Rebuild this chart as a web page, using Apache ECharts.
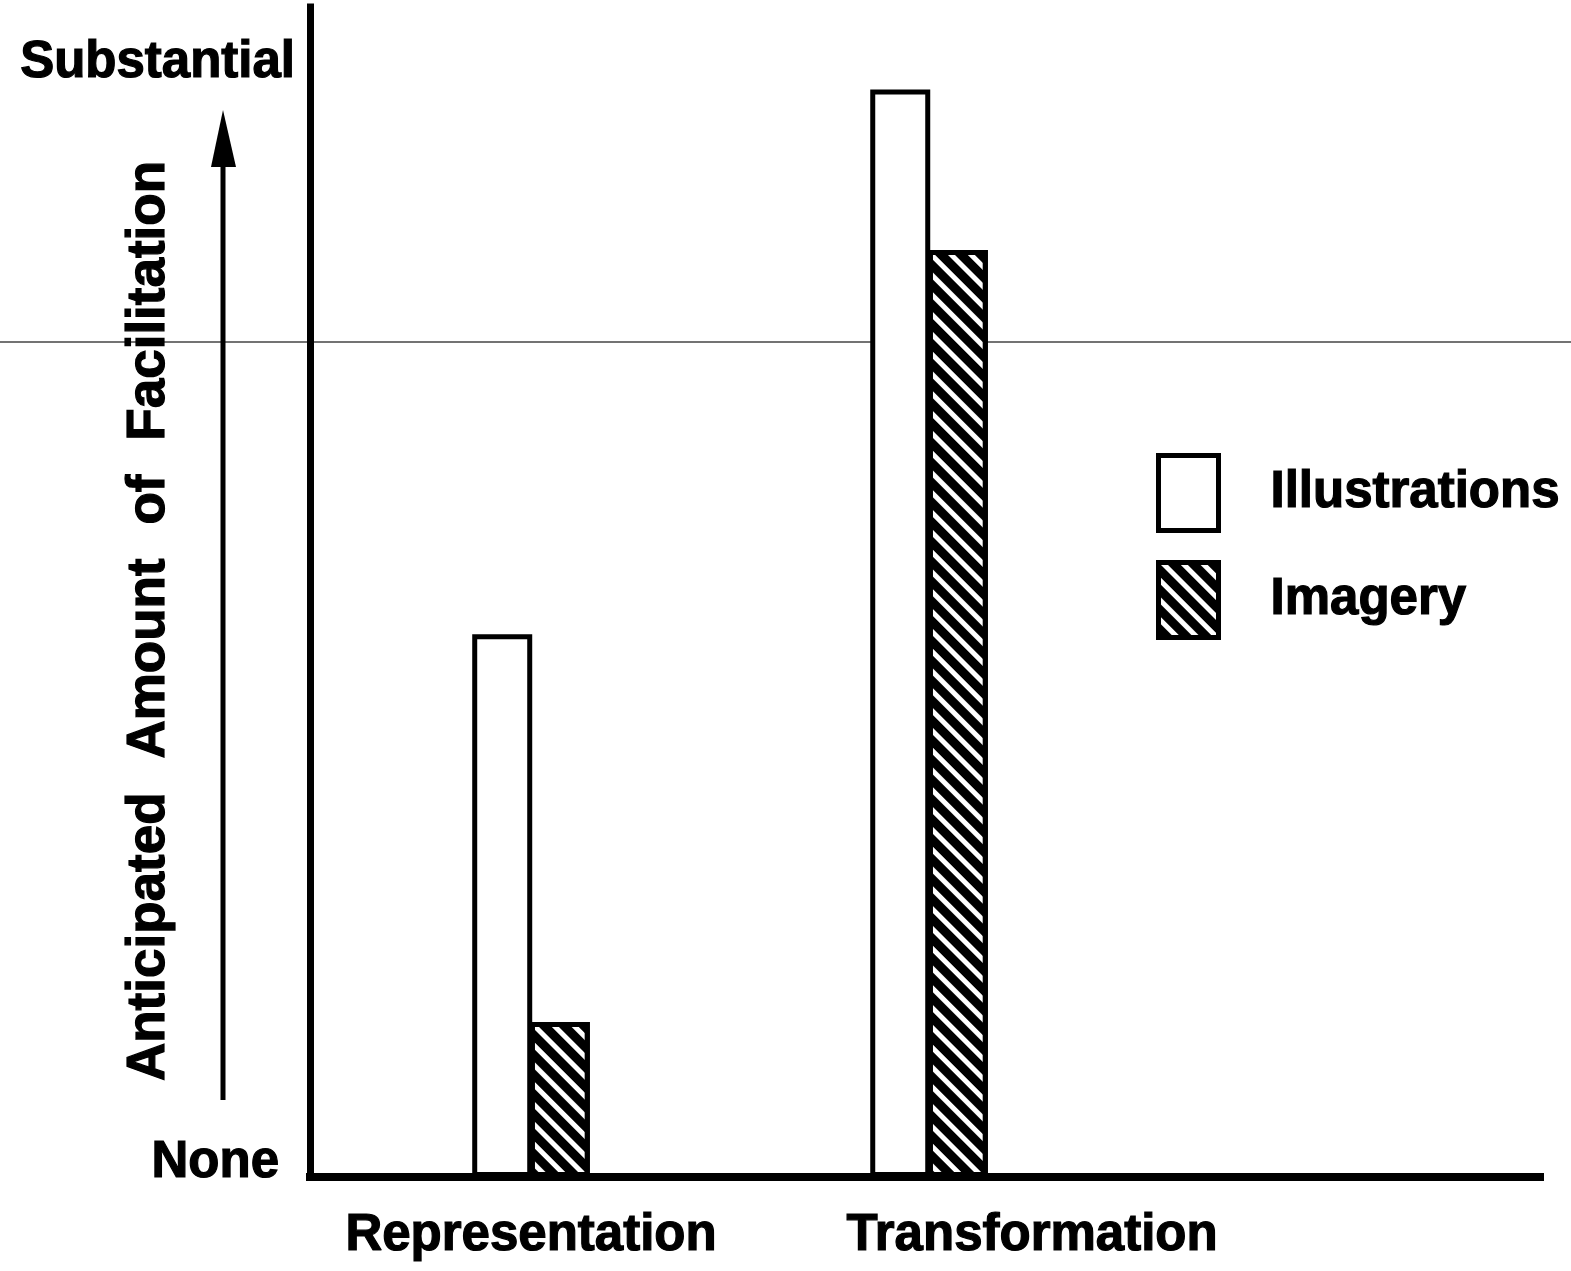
<!DOCTYPE html>
<html>
<head>
<meta charset="utf-8">
<script src="https://cdn.jsdelivr.net/npm/echarts@6/dist/echarts.min.js"></script>
<style>
html,body{margin:0;padding:0;background:#fff;}
#chart{width:1571px;height:1271px;}
</style>
</head>
<body>
<div id="chart"></div>
<script>
// categories sit at x = 1 and 2 on a value axis (lets the bars sit off-centre like the print)
const categories = ['Representation', 'Transformation']
const categoryPos = [1, 2]
const illustrations = [48.7, 97.6]
const imagery = [13.9, 83.2]
const yLabels = {0: 'None', 100: 'Substantial'}

const font = "'Liberation Sans', Arial, sans-serif"
// heavy print look
const ink = {fontSize: 51, fontWeight: 'bold', fontFamily: font, color: '#000', textBorderColor: '#000', textBorderWidth: 1.2}

function pairs(vals){
  let arr = []
  for(let i = 0; i < vals.length; i++){
    arr.push([categoryPos[i], vals[i]])
  }
  return arr
}

const chart = echarts.init(document.getElementById('chart'))
chart.setOption({
  backgroundColor: '#fff',
  animation: false,
  textStyle: {fontFamily: font, fontWeight: 'bold', color: '#000'},
  grid: {left: 310, right: 31, top: 7, bottom: 94, outerBoundsMode: 'none', containLabel: false},
  legend: {
    orient: 'vertical',
    left: 1151,
    top: 448,
    itemWidth: 60,
    itemHeight: 75,
    itemGap: 27,
    icon: 'rect',
    itemStyle: {borderWidth: 5, borderColor: '#000'},
    textStyle: Object.assign({}, ink, {padding: [0, 0, 0, 47]}),
    data: ['Illustrations', 'Imagery']
  },
  xAxis: {
    type: 'value',
    min: 0.4447,
    max: 3.535,
    splitLine: {show: false},
    axisTick: {show: false},
    axisLine: {show: true, lineStyle: {color: '#000', width: 8, cap: 'square'}},
    axisLabel: Object.assign({}, ink, {
      customValues: categoryPos,
      margin: 33,
      formatter: function(v){
        let i = categoryPos.indexOf(v)
        if(i < 0) return ''
        return i === 1 ? '{t|' + categories[i] + '}' : categories[i]
      },
      rich: {
        t: Object.assign({}, ink, {padding: [0, 0, 0, 206]})
      }
    })
  },
  yAxis: {
    type: 'value',
    min: 0,
    max: 105,
    splitLine: {show: false},
    axisTick: {show: false},
    axisLine: {show: true, lineStyle: {color: '#000', width: 7, cap: 'square'}},
    name: 'Anticipated  \u200aAmount  \u200aof  \u200aFacilitation',
    nameLocation: 'middle',
    nameGap: 134,
    nameMoveOverlap: false,
    nameTextStyle: Object.assign({}, ink, {fontSize: 53, padding: [0, 58, 0, 0]}),
    axisLabel: Object.assign({}, ink, {
      customValues: [0, 100],
      margin: 15,
      formatter: function(v){
        if(v === 0) return '{n|' + yLabels[0] + '}'
        return yLabels[v] || ''
      },
      rich: {
        n: Object.assign({}, ink, {padding: [0, 16, 28, 0]})
      }
    })
  },
  series: [
    {
      name: 'Illustrations',
      type: 'bar',
      barWidth: 60,
      barGap: '-4%',
      itemStyle: {color: '#fff', borderColor: '#000', borderWidth: 5},
      data: pairs(illustrations)
    },
    {
      name: 'Imagery',
      type: 'bar',
      barWidth: 60,
      barGap: '-4%',
      itemStyle: {
        color: '#fff',
        borderColor: '#000',
        borderWidth: 5,
        decal: {
          symbol: 'rect',
          symbolSize: 1,
          color: '#000',
          dashArrayX: [1, 0],
          dashArrayY: [9, 5],
          rotation: Math.PI / 4
        }
      },
      data: pairs(imagery)
    }
  ],
  graphic: [
    // arrow beside the axis title
    {type: 'line', shape: {x1: 223, y1: 1100, x2: 223, y2: 160}, style: {stroke: '#000', lineWidth: 5}},
    {type: 'polygon', shape: {points: [[223, 110], [211, 167], [236, 167]]}, style: {fill: '#000'}},
    // faint scan line across the page
    {type: 'line', shape: {x1: 0, y1: 342, x2: 1571, y2: 342}, style: {stroke: '#444', lineWidth: 1.5}, z: -1}
  ]
})
</script>
</body>
</html>
